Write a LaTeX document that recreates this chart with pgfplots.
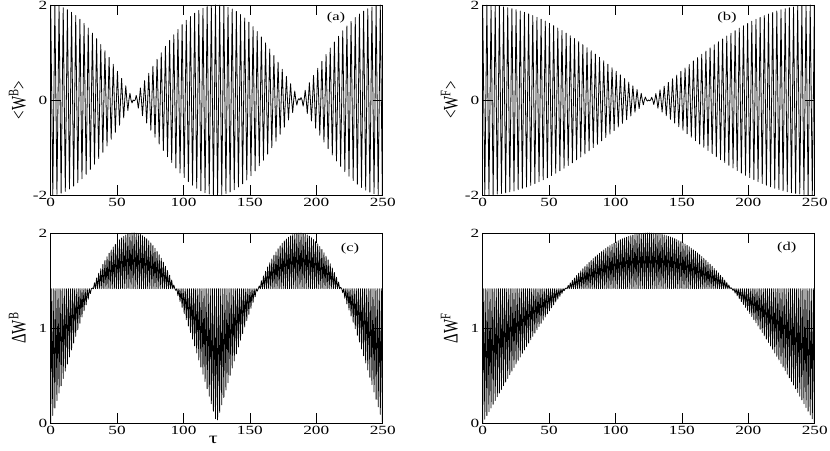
\documentclass[border=0pt]{standalone}
\usepackage{fontspec}
\setmainfont{Liberation Serif}
\usepackage{graphicx}
\usepackage{pgfplots}
\pgfplotsset{compat=1.18}
\usepackage{pgfplotstable}
\newcommand{\hs}[1]{\scalebox{1.38}[1]{#1}}
\newcommand{\vs}[1]{\scalebox{1}[1.38]{#1}}
\pgfplotstableread{
t a b c d
0.00 2.000 2.000 0.000 0.000
0.79 0 0 1.414 1.414
1.57 -1.998 -1.999 0.079 0.040
2.36 0 0 1.414 1.414
3.14 1.994 1.998 0.158 0.079
3.93 0 0 1.414 1.414
4.71 -1.986 -1.996 0.236 0.119
5.50 0 0 1.414 1.414
6.28 1.975 1.994 0.315 0.158
7.07 0 0 1.414 1.414
7.85 -1.961 -1.990 0.392 0.197
8.64 0 0 1.414 1.414
9.42 1.944 1.986 0.469 0.236
10.21 0 0 1.414 1.414
11.00 -1.924 -1.981 0.546 0.276
11.78 0 0 1.414 1.414
12.57 1.901 1.975 0.621 0.315
13.35 0 0 1.414 1.414
14.14 -1.875 -1.968 0.696 0.354
14.92 0 0 1.414 1.414
15.71 1.846 1.961 0.769 0.392
16.49 0 0 1.414 1.414
17.28 -1.814 -1.953 0.842 0.431
18.06 0 0 1.414 1.414
18.85 1.780 1.944 0.912 0.469
19.63 0 0 1.414 1.414
20.42 -1.742 -1.934 0.982 0.508
21.21 0 0 1.414 1.414
21.99 1.702 1.924 1.050 0.546
22.78 0 0 1.414 1.414
23.56 -1.660 -1.913 1.116 0.584
24.35 0 0 1.414 1.414
25.13 1.614 1.901 1.181 0.621
25.92 0 0 1.414 1.414
26.70 -1.567 -1.888 1.243 0.659
27.49 0 0 1.414 1.414
28.27 1.516 1.875 1.304 0.696
29.06 0 0 1.414 1.414
29.85 -1.464 -1.861 1.363 0.733
30.63 0 0 1.414 1.414
31.42 1.408 1.846 1.420 0.769
32.20 0 0 1.414 1.414
32.99 -1.351 -1.830 1.475 0.806
33.77 0 0 1.414 1.414
34.56 1.292 1.814 1.527 0.842
35.34 0 0 1.414 1.414
36.13 -1.230 -1.797 1.577 0.877
36.91 0 0 1.414 1.414
37.70 1.167 1.780 1.624 0.912
38.48 0 0 1.414 1.414
39.27 -1.102 -1.761 1.669 0.947
40.06 0 0 1.414 1.414
40.84 1.036 1.742 1.711 0.982
41.63 0 0 1.414 1.414
42.41 -0.967 -1.722 1.750 1.016
43.20 0 0 1.414 1.414
43.98 0.898 1.702 1.787 1.050
44.77 0 0 1.414 1.414
45.55 -0.826 -1.681 1.821 1.083
46.34 0 0 1.414 1.414
47.12 0.754 1.660 1.853 1.116
47.91 0 0 1.414 1.414
48.69 -0.680 -1.637 1.881 1.149
49.48 0 0 1.414 1.414
50.27 0.605 1.614 1.906 1.181
51.05 0 0 1.414 1.414
51.84 -0.530 -1.591 1.929 1.212
52.62 0 0 1.414 1.414
53.41 0.453 1.567 1.948 1.243
54.19 0 0 1.414 1.414
54.98 -0.376 -1.542 1.964 1.274
55.76 0 0 1.414 1.414
56.55 0.298 1.516 1.978 1.304
57.33 0 0 1.414 1.414
58.12 -0.220 -1.490 1.988 1.334
58.90 0 0 1.414 1.414
59.69 0.141 1.464 1.995 1.363
60.48 0 0 1.414 1.414
61.26 -0.062 -1.436 1.999 1.392
62.05 0 0 1.414 1.414
62.83 -0.017 1.408 2.000 1.420
63.62 0 0 1.414 1.414
64.40 0.096 -1.380 1.997 1.448
65.19 0 0 1.414 1.414
65.97 -0.174 1.351 1.992 1.475
66.76 0 0 1.414 1.414
67.54 0.253 -1.322 1.984 1.501
68.33 0 0 1.414 1.414
69.12 -0.331 1.292 1.972 1.527
69.90 0 0 1.414 1.414
70.69 0.408 -1.261 1.957 1.552
71.47 0 0 1.414 1.414
72.26 -0.485 1.230 1.940 1.577
73.04 0 0 1.414 1.414
73.83 0.562 -1.199 1.919 1.601
74.61 0 0 1.414 1.414
75.40 -0.637 1.167 1.896 1.624
76.18 0 0 1.414 1.414
76.97 0.711 -1.135 1.869 1.647
77.75 0 0 1.414 1.414
78.54 -0.784 1.102 1.839 1.669
79.33 0 0 1.414 1.414
80.11 0.857 -1.069 1.807 1.690
80.90 0 0 1.414 1.414
81.68 -0.927 1.036 1.772 1.711
82.47 0 0 1.414 1.414
83.25 0.996 -1.002 1.734 1.731
84.04 0 0 1.414 1.414
84.82 -1.064 0.967 1.693 1.750
85.61 0 0 1.414 1.414
86.39 1.130 -0.933 1.650 1.769
87.18 0 0 1.414 1.414
87.96 -1.194 0.898 1.604 1.787
88.75 0 0 1.414 1.414
89.54 1.256 -0.862 1.556 1.804
90.32 0 0 1.414 1.414
91.11 -1.316 0.826 1.505 1.821
91.89 0 0 1.414 1.414
92.68 1.375 -0.790 1.452 1.837
93.46 0 0 1.414 1.414
94.25 -1.432 0.754 1.396 1.853
95.03 0 0 1.414 1.414
95.82 1.486 -0.717 1.339 1.867
96.60 0 0 1.414 1.414
97.39 -1.538 0.680 1.279 1.881
98.18 0 0 1.414 1.414
98.96 1.587 -0.643 1.217 1.894
99.75 0 0 1.414 1.414
100.53 -1.633 0.605 1.153 1.906
101.32 0 0 1.414 1.414
102.10 1.678 -0.568 1.088 1.918
102.89 0 0 1.414 1.414
103.67 -1.719 0.530 1.021 1.929
104.46 0 0 1.414 1.414
105.24 1.758 -0.492 0.952 1.939
106.03 0 0 1.414 1.414
106.81 -1.794 0.453 0.883 1.948
107.60 0 0 1.414 1.414
108.38 1.828 -0.415 0.811 1.956
109.17 0 0 1.414 1.414
109.96 -1.859 0.376 0.738 1.964
110.74 0 0 1.414 1.414
111.53 1.886 -0.337 0.664 1.971
112.31 0 0 1.414 1.414
113.10 -1.911 0.298 0.589 1.978
113.88 0 0 1.414 1.414
114.67 1.933 -0.259 0.514 1.983
115.45 0 0 1.414 1.414
116.24 -1.951 0.220 0.437 1.988
117.02 0 0 1.414 1.414
117.81 1.967 -0.181 0.360 1.992
118.60 0 0 1.414 1.414
119.38 -1.980 0.141 0.282 1.995
120.17 0 0 1.414 1.414
120.95 1.989 -0.102 0.203 1.997
121.74 0 0 1.414 1.414
122.52 -1.996 0.062 0.124 1.999
123.31 0 0 1.414 1.414
124.09 1.999 -0.023 0.045 2.000
124.88 0 0 1.414 1.414
125.66 -1.999 -0.017 0.033 2.000
126.45 0 0 1.414 1.414
127.23 1.996 0.057 0.112 1.999
128.02 0 0 1.414 1.414
128.81 -1.991 -0.096 0.191 1.997
129.59 0 0 1.414 1.414
130.38 1.981 0.135 0.269 1.995
131.16 0 0 1.414 1.414
131.95 -1.969 -0.174 0.348 1.992
132.73 0 0 1.414 1.414
133.52 1.954 0.214 0.425 1.988
134.30 0 0 1.414 1.414
135.09 -1.936 -0.253 0.502 1.984
135.87 0 0 1.414 1.414
136.66 1.914 0.292 0.578 1.978
137.45 0 0 1.414 1.414
138.23 -1.890 -0.331 0.653 1.972
139.02 0 0 1.414 1.414
139.80 1.863 0.370 0.727 1.965
140.59 0 0 1.414 1.414
141.37 -1.832 -0.408 0.800 1.957
142.16 0 0 1.414 1.414
142.94 1.800 0.447 0.872 1.949
143.73 0 0 1.414 1.414
144.51 -1.764 -0.485 0.942 1.940
145.30 0 0 1.414 1.414
146.08 1.725 0.524 1.011 1.930
146.87 0 0 1.414 1.414
147.65 -1.684 -0.562 1.078 1.919
148.44 0 0 1.414 1.414
149.23 1.641 0.600 1.143 1.908
150.01 0 0 1.414 1.414
150.80 -1.594 -0.637 1.207 1.896
151.58 0 0 1.414 1.414
152.37 1.545 0.674 1.269 1.883
153.15 0 0 1.414 1.414
153.94 -1.494 -0.711 1.329 1.869
154.72 0 0 1.414 1.414
155.51 1.440 0.748 1.387 1.854
156.29 0 0 1.414 1.414
157.08 -1.384 -0.784 1.443 1.839
157.87 0 0 1.414 1.414
158.65 1.326 0.821 1.497 1.823
159.44 0 0 1.414 1.414
160.22 -1.266 -0.857 1.548 1.807
161.01 0 0 1.414 1.414
161.79 1.203 0.892 1.597 1.790
162.58 0 0 1.414 1.414
163.36 -1.140 -0.927 1.643 1.772
164.15 0 0 1.414 1.414
164.93 1.074 0.962 1.687 1.753
165.72 0 0 1.414 1.414
166.50 -1.007 -0.996 1.727 1.734
167.29 0 0 1.414 1.414
168.08 0.938 1.030 1.766 1.714
168.86 0 0 1.414 1.414
169.65 -0.868 -1.064 1.801 1.693
170.43 0 0 1.414 1.414
171.22 0.796 1.097 1.835 1.672
172.00 0 0 1.414 1.414
172.79 -0.723 -1.130 1.865 1.650
173.57 0 0 1.414 1.414
174.36 0.648 1.162 1.892 1.627
175.14 0 0 1.414 1.414
175.93 -0.573 -1.194 1.916 1.604
176.71 0 0 1.414 1.414
177.50 0.497 1.225 1.937 1.580
178.28 0 0 1.414 1.414
179.07 -0.420 -1.256 1.955 1.556
179.86 0 0 1.414 1.414
180.64 0.343 1.286 1.970 1.531
181.43 0 0 1.414 1.414
182.21 -0.265 -1.316 1.982 1.505
183.00 0 0 1.414 1.414
183.78 0.187 1.346 1.991 1.479
184.57 0 0 1.414 1.414
185.35 -0.108 -1.375 1.997 1.452
186.14 0 0 1.414 1.414
186.92 0.029 1.404 1.999 1.424
187.71 0 0 1.414 1.414
188.50 0.050 -1.432 1.999 1.396
189.28 0 0 1.414 1.414
190.07 -0.129 1.459 1.995 1.368
190.85 0 0 1.414 1.414
191.64 0.207 -1.486 1.989 1.339
192.42 0 0 1.414 1.414
193.21 -0.286 1.512 1.979 1.309
193.99 0 0 1.414 1.414
194.78 0.364 -1.538 1.966 1.279
195.56 0 0 1.414 1.414
196.35 -0.441 1.563 1.950 1.248
197.13 0 0 1.414 1.414
197.92 0.518 -1.587 1.931 1.217
198.71 0 0 1.414 1.414
199.49 -0.594 1.610 1.909 1.185
200.28 0 0 1.414 1.414
201.06 0.669 -1.633 1.885 1.153
201.85 0 0 1.414 1.414
202.63 -0.742 1.656 1.857 1.121
203.42 0 0 1.414 1.414
204.20 0.815 -1.678 1.826 1.088
204.99 0 0 1.414 1.414
205.77 -0.886 1.699 1.792 1.055
206.56 0 0 1.414 1.414
207.35 0.956 -1.719 1.756 1.021
208.13 0 0 1.414 1.414
208.92 -1.025 1.739 1.717 0.987
209.70 0 0 1.414 1.414
210.49 1.092 -1.758 1.675 0.952
211.27 0 0 1.414 1.414
212.06 -1.157 1.776 1.631 0.918
212.84 0 0 1.414 1.414
213.63 1.220 -1.794 1.584 0.883
214.41 0 0 1.414 1.414
215.20 -1.282 1.811 1.535 0.847
215.98 0 0 1.414 1.414
216.77 1.341 -1.828 1.483 0.811
217.56 0 0 1.414 1.414
218.34 -1.399 1.844 1.428 0.775
219.13 0 0 1.414 1.414
219.91 1.455 -1.859 1.372 0.738
220.70 0 0 1.414 1.414
221.48 -1.508 1.873 1.314 0.701
222.27 0 0 1.414 1.414
223.05 1.559 -1.886 1.253 0.664
223.84 0 0 1.414 1.414
224.62 -1.607 1.899 1.190 0.627
225.41 0 0 1.414 1.414
226.19 1.653 -1.911 1.126 0.589
226.98 0 0 1.414 1.414
227.77 -1.696 1.922 1.060 0.552
228.55 0 0 1.414 1.414
229.34 1.736 -1.933 0.992 0.514
230.12 0 0 1.414 1.414
230.91 -1.773 1.942 0.923 0.476
231.69 0 0 1.414 1.414
232.48 1.809 -1.951 0.852 0.437
233.26 0 0 1.414 1.414
234.05 -1.841 1.959 0.780 0.399
234.83 0 0 1.414 1.414
235.62 1.871 -1.967 0.707 0.360
236.41 0 0 1.414 1.414
237.19 -1.897 1.974 0.632 0.321
237.98 0 0 1.414 1.414
238.76 1.921 -1.980 0.557 0.282
239.55 0 0 1.414 1.414
240.33 -1.941 1.985 0.481 0.243
241.12 0 0 1.414 1.414
241.90 1.958 -1.989 0.404 0.203
242.69 0 0 1.414 1.414
243.47 -1.973 1.993 0.327 0.164
244.26 0 0 1.414 1.414
245.04 1.984 -1.996 0.249 0.124
245.83 0 0 1.414 1.414
246.62 -1.992 1.998 0.170 0.085
247.40 0 0 1.414 1.414
248.19 1.998 -1.999 0.091 0.045
248.97 0 0 1.414 1.414
249.76 -1.999 1.999 0.012 0.006
}\data
\pgfplotsset{
  panel/.style={
    scale only axis, width=332pt, height=190pt,
    xmin=0, xmax=250,
    axis line style={line width=0.8pt},
    every tick/.style={black, line width=0.8pt},
    major tick length=10pt,
    tick align=inside, tick pos=both,
    xtick={0,50,100,150,200,250},
    xticklabels={\hs{0},\hs{50},\hs{100},\hs{150},\hs{200},\hs{250}},
    tick label style={font=\fontsize{12.5}{14}\selectfont},
    label style={font=\fontsize{15}{17}\selectfont},
    ylabel style={at={(axis description cs:-0.1,0.5)}, anchor=center, rotate=0},
  },
  ptop/.style={ymin=-2, ymax=2, ytick={-2,0,2}, yticklabels={\hs{-2},\hs{0},\hs{2}}},
  pbot/.style={ymin=0, ymax=2, ytick={0,1,2}, yticklabels={\hs{0},\hs{1},\hs{2}}},
  zig/.style={black, line width=0.8pt, line join=round, no marks},
}
\begin{document}
\begin{tikzpicture}
\useasboundingbox (0,0) rectangle (830pt,450pt);
% (a)
\begin{axis}[panel, ptop, at={(50.7pt,255pt)}, anchor=south west,
  ylabel={\vs{<W\textsuperscript{B}>}}]
  \addplot[zig] table[x=t, y=a] {\data};
  \node[font=\fontsize{12}{14}\selectfont] at (axis cs:214.8,1.73) {\hs{(a)}};
\end{axis}
% (b)
\begin{axis}[panel, ptop, at={(482.7pt,255pt)}, anchor=south west,
  ylabel={\vs{<W\textsuperscript{F}>}}]
  \addplot[zig] table[x=t, y=b] {\data};
  \node[font=\fontsize{12}{14}\selectfont] at (axis cs:184,1.73) {\hs{(b)}};
\end{axis}
% (c)
\begin{axis}[panel, pbot, at={(50.7pt,27pt)}, anchor=south west,
  ylabel={\vs{ΔW\textsuperscript{B}}},
  xlabel={\hs{τ}},
  xlabel style={at={(axis description cs:0.49,0)}, anchor=center, yshift=-17pt, font=\fontsize{16}{18}\selectfont}]
  \addplot[zig] table[x=t, y=c] {\data};
  \node[font=\fontsize{12}{14}\selectfont] at (axis cs:225.4,1.84) {\hs{(c)}};
\end{axis}
% (d)
\begin{axis}[panel, pbot, at={(482.7pt,27pt)}, anchor=south west,
  ylabel={\vs{ΔW\textsuperscript{F}}}]
  \addplot[zig] table[x=t, y=d] {\data};
  \node[font=\fontsize{12}{14}\selectfont] at (axis cs:229,1.85) {\hs{(d)}};
\end{axis}
\end{tikzpicture}
\end{document}
